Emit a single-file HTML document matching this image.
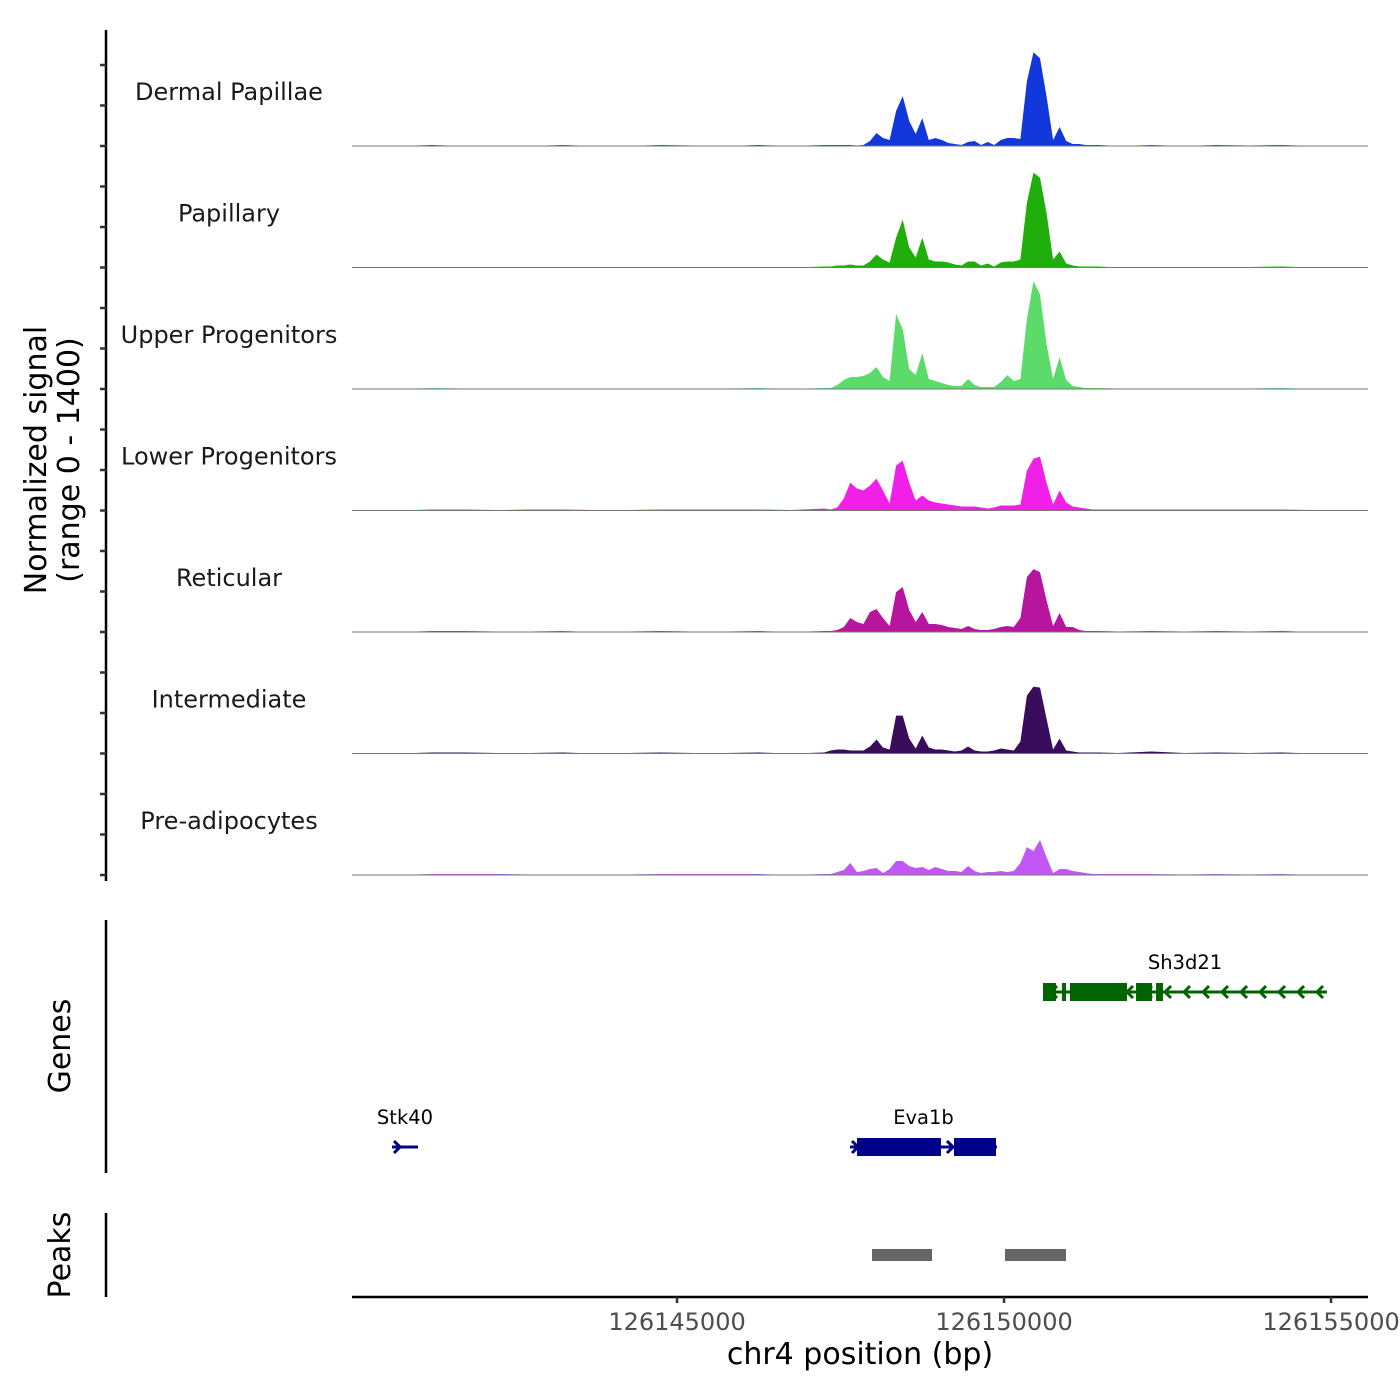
<!DOCTYPE html>
<html><head><meta charset="utf-8"><style>
html,body{margin:0;padding:0;background:#fff;}
svg{display:block;font-family:"DejaVu Sans","Liberation Sans",sans-serif;}
</style></head><body>
<svg id="chart" width="1400" height="1400" viewBox="0 0 1400 1400">
<text x="52" y="460" transform="rotate(-90 52 460)" text-anchor="middle" font-size="30" fill="#000"><tspan x="52" dy="-6">Normalized signal</tspan><tspan x="52" dy="33">(range 0 - 1400)</tspan></text>
<text x="70" y="1046" transform="rotate(-90 70 1046)" text-anchor="middle" font-size="30" fill="#000">Genes</text>
<text x="70" y="1255" transform="rotate(-90 70 1255)" text-anchor="middle" font-size="30" fill="#000">Peaks</text>
<line x1="106" y1="30" x2="106" y2="881" stroke="#000" stroke-width="2.5"/>
<line x1="106" y1="920" x2="106" y2="1173" stroke="#000" stroke-width="2.5"/>
<line x1="106" y1="1213" x2="106" y2="1297" stroke="#000" stroke-width="2.5"/>
<line x1="352" y1="1297" x2="1368" y2="1297" stroke="#000" stroke-width="2.5"/>
<text x="860" y="1364" text-anchor="middle" font-size="30" fill="#000">chr4 position (bp)</text>
<g id="tracks"></g>
<g id="genes"></g>
<g id="peaks"></g>
<g id="xticks"></g>
</svg>
<script>
const trackNames = ["Dermal Papillae","Papillary","Upper Progenitors","Lower Progenitors","Reticular","Intermediate","Pre-adipocytes"];
const trackColors = ["#1238dc","#1fae0c","#5cdb6a","#f020e8","#b8159e","#390c5c","#c257f5"];
const coreStart = 126147300;
const coreBin = 100;
const bgStart = 126140000;
const bgBin = 500;
const yMax = 1400;
const dermal = [12,12,12,12,6,12,58,150,92,69,403,575,288,138,322,69,92,69,35,23,12,46,58,12,46,12,69,92,92,81,748,1081,1012,575,69,219,58,23,23,12,12,12];
const papillary = [12,23,23,35,23,23,69,150,92,58,345,552,230,115,345,92,69,69,58,35,23,69,69,23,46,12,58,69,69,92,748,1093,1035,633,92,184,46,23,12,12,12,12];
const upperProg = [12,46,104,138,138,150,184,253,138,92,863,690,230,161,414,115,92,69,46,35,35,115,46,23,23,23,81,161,92,115,805,1242,1093,518,115,368,104,35,23,12,12,12];
const lowerProg = [12,35,138,322,253,230,288,368,230,81,518,575,322,115,173,115,92,81,69,58,46,46,46,35,23,35,58,58,58,69,460,598,621,322,69,230,92,46,35,23,12,12];
const reticular = [12,23,58,161,115,92,230,265,161,69,460,518,253,115,230,92,92,81,58,46,35,69,35,23,23,35,58,69,58,161,633,725,690,368,69,219,58,58,23,12,12,12];
const intermediate = [35,46,46,35,35,35,81,161,69,46,437,437,173,58,207,69,46,46,35,23,35,81,35,23,23,35,58,46,35,138,667,771,759,403,46,173,35,23,12,12,12,12];
const preAdipo = [12,35,58,138,35,46,69,81,23,69,161,161,104,81,92,58,92,69,46,46,35,104,46,23,35,35,46,35,46,138,322,276,403,207,23,69,69,46,35,23,12,12];
const bgDermal = [0,0,12,0,6,0,12,0,0,12,6,0,12,0,12,0,0,0,0,0,0,0,0,0,12,0,12,6,12,0,0,0];
const bgPapillary = [0,0,6,0,6,0,6,0,0,6,0,6,6,0,12,0,0,0,0,0,0,0,0,0,6,0,6,6,12,0,0,0];
const bgUpper = [0,0,12,6,6,6,6,0,6,6,6,6,12,0,12,0,0,0,0,0,0,0,0,6,6,6,6,6,12,0,0,0];
const bgLower = [0,0,12,12,6,12,12,6,6,12,12,12,12,6,23,0,0,0,0,0,0,0,0,12,12,12,12,12,12,6,0,0];
const bgReticular = [0,0,12,12,6,6,12,0,6,12,6,6,12,0,12,0,0,0,0,0,0,0,0,6,12,6,12,6,12,0,0,0];
const bgIntermediate = [0,0,12,12,6,6,12,0,6,12,6,6,12,0,12,0,0,0,0,0,0,0,0,6,23,6,12,6,12,0,0,0];
const bgPreAdipo = [0,0,12,12,12,6,6,0,6,12,12,12,12,0,12,0,0,0,0,0,0,0,0,12,12,6,12,6,12,0,0,0];
const coreSeries = [dermal,papillary,upperProg,lowerProg,reticular,intermediate,preAdipo];
const bgSeries = [bgDermal,bgPapillary,bgUpper,bgLower,bgReticular,bgIntermediate,bgPreAdipo];
const xTicks = [126145000,126150000,126155000];
const geneNames = ["Sh3d21","Eva1b","Stk40"];
const geneStarts = [126150596,126147645,126140642];
const geneEnds = [126154938,126149892,126141039];
const geneStrand = [-1,1,1];
const geneRow = [0,1,1];
const geneColors = ["#006400","#00008b","#00008b"];
const exonGene = [0,0,0,0,0,1,1];
const exonStarts = [126150596,126150886,126151008,126152018,126152324,126147752,126149235];
const exonEnds = [126150795,126150947,126151880,126152263,126152431,126149036,126149877];
const peakStarts = [126147981,126150015];
const peakEnds = [126148899,126150947];

const X0 = 352, X1 = 1368, BP0 = 126140030, PXPERBP = 0.0654;
function xs(bp){return X0 + (bp - BP0) * PXPERBP;}
const trackH = 121.5, firstBase = 146;
function baseY(i){return firstBase + i * trackH;}
function ys(v,i){return baseY(i) - v / yMax * trackH;}
const NS = "http://www.w3.org/2000/svg";
function mk(tag, attrs, parent){const e=document.createElementNS(NS,tag);for(const k in attrs)e.setAttribute(k,attrs[k]);parent.appendChild(e);return e;}

const tracks = document.getElementById('tracks');
const coreEnd = coreStart + coreSeries[0].length * coreBin;
coreSeries.forEach((core, i) => {
  const pts = [];
  bgSeries[i].forEach((v, j) => {
    const c = bgStart + j * bgBin + bgBin / 2;
    if (c < coreStart || c > coreEnd) pts.push([c, v]);
  });
  core.forEach((v, j) => pts.push([coreStart + j * coreBin + coreBin / 2, v]));
  pts.sort((a, b) => a[0] - b[0]);
  let d = `M${X0},${baseY(i)}`;
  pts.forEach(p => { const x = Math.max(X0, Math.min(X1, xs(p[0]))); d += ` L${x.toFixed(1)},${ys(p[1], i).toFixed(1)}`; });
  d += ` L${X1},${baseY(i)} Z`;
  const area = mk('path', {d: d, fill: trackColors[i], stroke: 'none'}, tracks);
  
  
  const bl = mk('line', {x1: X0, x2: X1, y1: baseY(i), y2: baseY(i), stroke: '#777', 'stroke-width': 1}, tracks);
  
  
  const lab = mk('text', {x: 229, y: baseY(i) - 46, 'text-anchor': 'middle', 'font-size': 24, fill: '#1a1a1a'}, tracks);
  lab.textContent = trackNames[i];
  
  
  for (let k = 0; k < 3; k++) {
    const ty = baseY(i) - k * trackH / 3;
    const t = mk('line', {x1: 100, x2: 106, y1: ty, y2: ty, stroke: '#333', 'stroke-width': 2.5}, tracks);
    
    
  }
});

const genes = document.getElementById('genes');
const rowY = [992, 1147];
geneNames.forEach((g, i) => {
  const y = rowY[geneRow[i]], col = geneColors[i];
  const x1 = xs(geneStarts[i]), x2 = xs(geneEnds[i]);
  const grp = mk('g', {}, genes);
  
  
  mk('line', {x1: x1, x2: x2, y1: y, y2: y, stroke: col, 'stroke-width': 3}, grp);
  const step = 19;
  for (let x = x1 + 8; x <= x2 + 1; x += step) {
    const dx = geneStrand[i] * 6;
    mk('polyline', {points: `${x - dx},${y - 6} ${x},${y} ${x - dx},${y + 6}`, fill: 'none', stroke: col, 'stroke-width': 3}, grp);
  }
  const lab = mk('text', {x: (x1 + x2) / 2, y: y - 23, 'text-anchor': 'middle', 'font-size': 19.5, fill: '#000'}, grp);
  lab.textContent = g;
  
  
});
exonStarts.forEach((s, j) => {
  const gi = exonGene[j], y = rowY[geneRow[gi]];
  const r = mk('rect', {x: xs(s), y: y - 9, width: xs(exonEnds[j]) - xs(s), height: 18, fill: geneColors[gi]}, genes);
  
  
});

const peaks = document.getElementById('peaks');
peakStarts.forEach((s, j) => {
  const r = mk('rect', {x: xs(s), y: 1249, width: xs(peakEnds[j]) - xs(s), height: 12, fill: '#666'}, peaks);
  
  
});

const xt = document.getElementById('xticks');
xTicks.forEach(v => {
  const t = mk('line', {x1: xs(v), x2: xs(v), y1: 1297, y2: 1303, stroke: '#333', 'stroke-width': 2.5}, xt);
  
  
  const l = mk('text', {x: xs(v), y: 1330, 'text-anchor': 'middle', 'font-size': 24, fill: '#4d4d4d'}, xt);
  l.textContent = v;
  
  
});
</script>
</body></html>
